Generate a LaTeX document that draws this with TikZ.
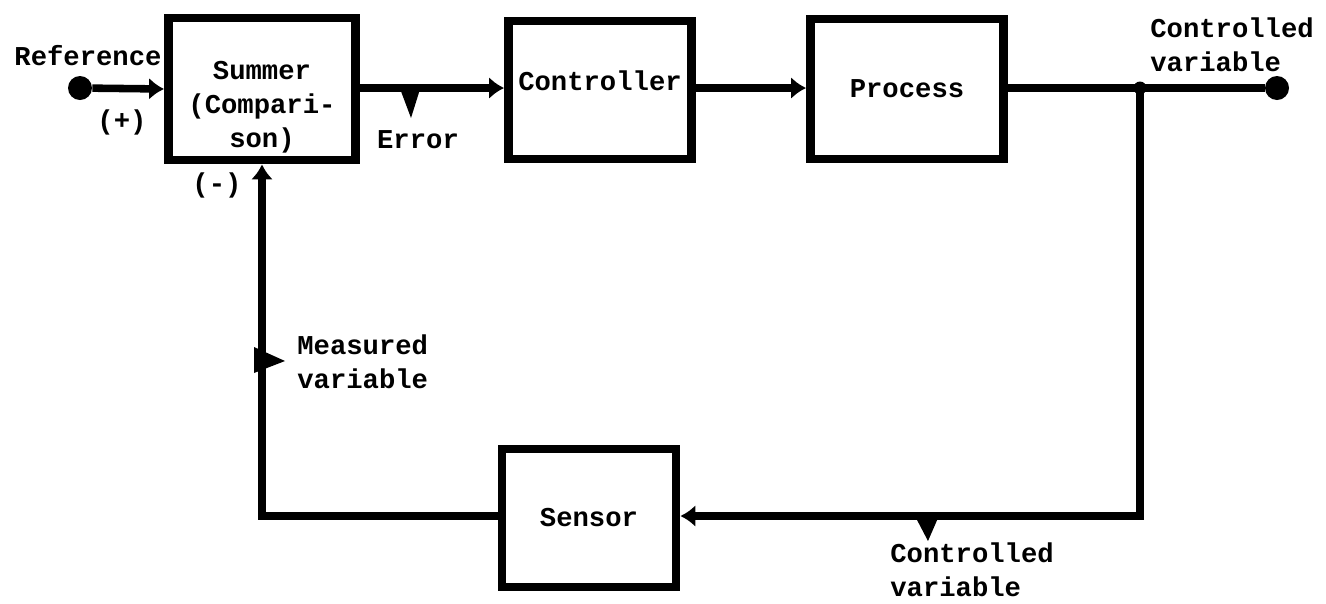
\documentclass[tikz,border=0pt]{standalone}
\usepackage{fontspec}
\setmonofont{Liberation Mono}
\usetikzlibrary{arrows.meta}
\begin{document}
\begin{tikzpicture}[x=0.02cm,y=-0.02cm,
  every node/.style={font=\ttfamily\bfseries\fontsize{15.5}{19.5}\selectfont},
  blk/.style={draw, line width=5pt, inner sep=0pt, align=center},
  conn/.style={line width=4.3pt},
  tip/.style={-{Latex[length=0.3cm,width=0.44cm]}},
  dot/.style={circle, fill, inner sep=0pt, minimum size=0.48cm},
  jdot/.style={circle, fill, inner sep=0pt, minimum size=0.26cm},
  lbl/.style={align=left, inner sep=0pt}]
\useasboundingbox (0,0) rectangle (1326,603);
% blocks
\node[blk, minimum width=3.74cm, minimum height=2.84cm] (summer) at (262,89) {\rule{0pt}{1.1cm}Summer\\(Compari-\\son)};
\node[blk, minimum width=3.66cm, minimum height=2.76cm] (ctrl) at (600,90) {Controller\rule[-0.38cm]{0pt}{0pt}};
\node[blk, minimum width=3.86cm, minimum height=2.8cm] (proc) at (907,89) {Process};
\node[blk, minimum width=3.48cm, minimum height=2.76cm] (sensor) at (589,518) {Sensor};
% terminals and junctions
\node[dot] (ref) at (80,88) {};
\node[dot] (out) at (1277,88) {};
\node[jdot] (j) at (1140,88) {};
\coordinate (c1) at (1140,516);
% labels
\node[lbl] (reflbl) at (88,56) {Reference};
\node[lbl] (plus) at (122,122) {(+)};
\node[lbl] (minus) at (217,185) {(-)};
\node[lbl] (errlbl) at (418,140) {Error};
\node[lbl, anchor=west] (meas) at (297,362) {Measured\\variable};
\node[lbl, anchor=north west] (cvtop) at (1150,17) {Controlled\\variable};
\node[lbl, anchor=north west] (cvbot) at (890,542) {Controlled\\variable};
% connectors
\draw[conn, tip] (ref) -- (summer.west);
\draw[conn, tip] (summer.east |- ref) -- (ctrl.west |- ref);
\draw[conn, tip] (ctrl.east |- ref) -- (proc.west |- ref);
\draw[conn] (proc.east |- ref) -- (out);
\draw[conn, tip] (j.center) -- (c1) -- (sensor.east |- c1);
\draw[conn, tip] (sensor.west |- c1) -| (summer.south);
% pointer ticks
\fill (399,86) -- (421,86) -- (411,118) -- cycle;
\fill (916,518) -- (938,518) -- (928,541) -- cycle;
\fill (254,347) -- (254,373) -- (285,361) -- cycle;
\end{tikzpicture}
\end{document}
